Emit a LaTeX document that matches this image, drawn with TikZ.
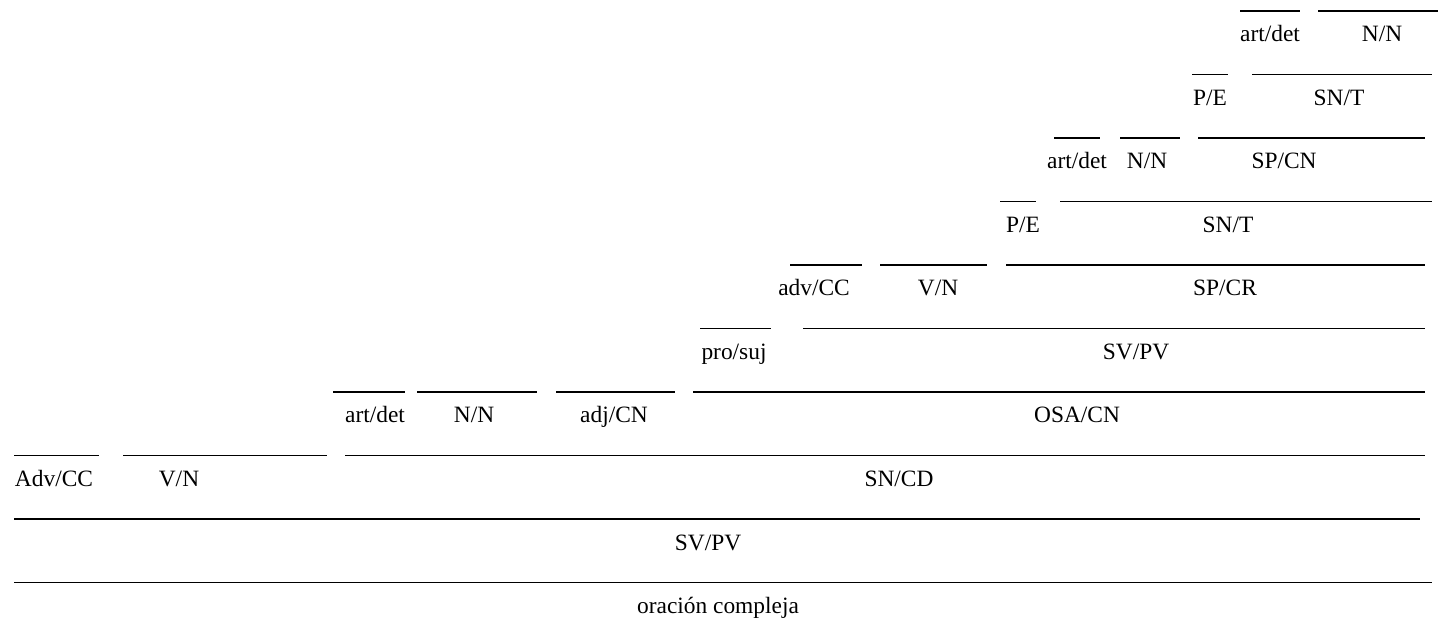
\documentclass[tikz,border=0pt]{standalone}
\usepackage{fontspec}
\setmainfont{Liberation Serif}
\begin{document}
\begin{tikzpicture}[x=0.5pt,y=-0.5pt]
\tikzstyle{tag}=[anchor=base,inner sep=0pt,font=\fontsize{11.7}{14}\selectfont]
\tikzstyle{bar}=[line width=0.6pt]
\useasboundingbox (0,0) rectangle (1439,619);
% nivel 1
\draw[bar] (1240,11) -- (1300,11);
\draw[bar] (1318,11) -- (1438,11);
\node[tag] (det4) at (1270,42) {art/det};
\node[tag] (n5) at (1382,42) {N/N};
% nivel 2
\draw[bar] (1192,74.5) -- (1228,74.5);
\draw[bar] (1252,74.5) -- (1432,74.5);
\node[tag] (pe2) at (1210,105.5) {P/E};
\node[tag] (snt2) at (1339,105.5) {SN/T};
% nivel 3
\draw[bar] (1054,138) -- (1100,138);
\draw[bar] (1120,138) -- (1180,138);
\draw[bar] (1198,138) -- (1425,138);
\node[tag] (det3) at (1077,169) {art/det};
\node[tag] (n4) at (1147,169) {N/N};
\node[tag] (spcn) at (1284,169) {SP/CN};
% nivel 4
\draw[bar] (1000,201.5) -- (1036,201.5);
\draw[bar] (1060,201.5) -- (1432,201.5);
\node[tag] (pe1) at (1023,232.5) {P/E};
\node[tag] (snt1) at (1228,232.5) {SN/T};
% nivel 5
\draw[bar] (790,265) -- (862,265);
\draw[bar] (880,265) -- (987,265);
\draw[bar] (1006,265) -- (1425,265);
\node[tag] (advcc2) at (814,296) {adv/CC};
\node[tag] (vn2) at (938,296) {V/N};
\node[tag] (spcr) at (1225,296) {SP/CR};
% nivel 6
\draw[bar] (700,328.5) -- (771,328.5);
\draw[bar] (803,328.5) -- (1425,328.5);
\node[tag] (prosuj) at (734,359.5) {pro/suj};
\node[tag] (svpv2) at (1136,359.5) {SV/PV};
% nivel 7
\draw[bar] (333,392) -- (405,392);
\draw[bar] (417,392) -- (537,392);
\draw[bar] (556,392) -- (675,392);
\draw[bar] (693,392) -- (1425,392);
\node[tag] (det1) at (375,423) {art/det};
\node[tag] (n1) at (474,423) {N/N};
\node[tag] (adjcn) at (614,423) {adj/CN};
\node[tag] (osacn) at (1077,423) {OSA/CN};
% nivel 8
\draw[bar] (14,455.5) -- (99,455.5);
\draw[bar] (123,455.5) -- (327,455.5);
\draw[bar] (345,455.5) -- (1425,455.5);
\node[tag] (advcc1) at (54,486.5) {Adv/CC};
\node[tag] (vn1) at (179,486.5) {V/N};
\node[tag] (sncd) at (899,486.5) {SN/CD};
% nivel 9
\draw[bar] (14,519) -- (1420,519);
\node[tag] (svpv1) at (708,550) {SV/PV};
% nivel 10
\draw[bar] (14,582.5) -- (1432,582.5);
\node[tag] (oracion) at (718,613.5) {oración compleja};
\end{tikzpicture}
\end{document}
